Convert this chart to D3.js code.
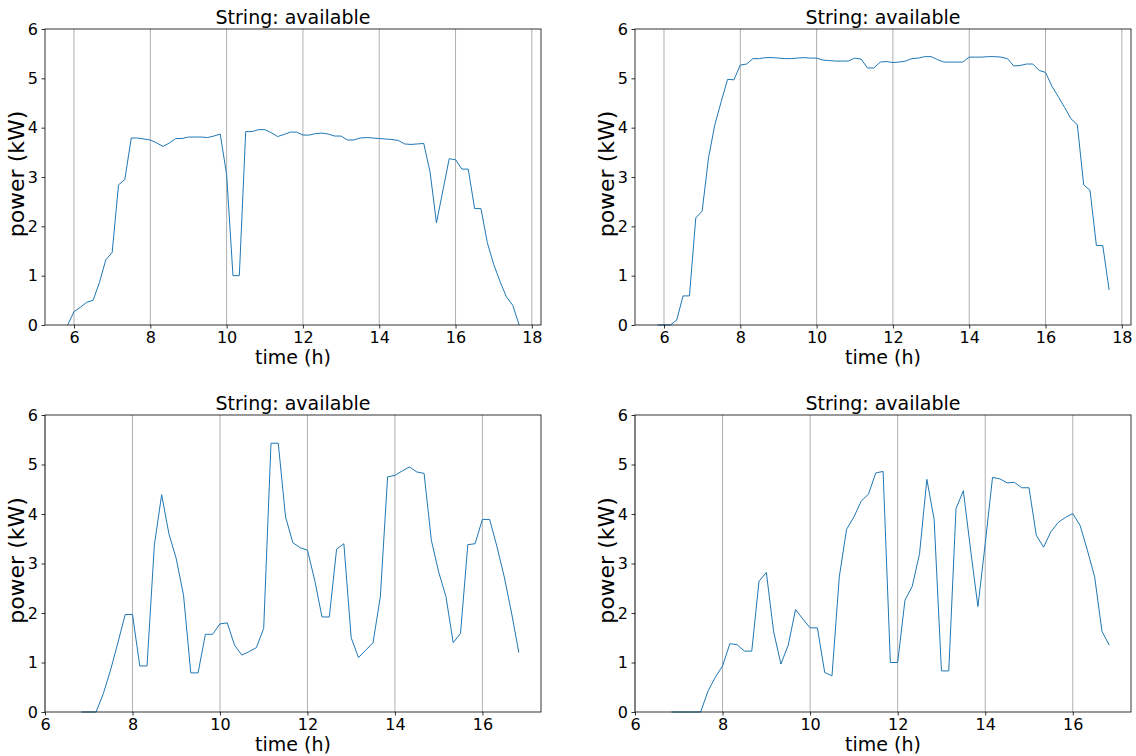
<!DOCTYPE html>
<html>
<head>
<meta charset="utf-8">
<script src="https://cdn.jsdelivr.net/npm/d3@7"></script>
<style>
  body { margin: 0; background: #fff; }
  text { font-family: "DejaVu Sans", sans-serif; fill: #000; }
  .tick text { font-size: 16px; }
</style>
</head>
<body>
<div id="chart"></div>
<script>
// sample times (h), 10 minute steps
const timesA = [5.833, 6.0, 6.167, 6.333, 6.5, 6.667, 6.833, 7.0, 7.167, 7.333, 7.5, 7.667, 7.833,
  8.0, 8.167, 8.333, 8.5, 8.667, 8.833, 9.0, 9.167, 9.333, 9.5, 9.667, 9.833,
  10.0, 10.167, 10.333, 10.5, 10.667, 10.833, 11.0, 11.167, 11.333, 11.5, 11.667, 11.833,
  12.0, 12.167, 12.333, 12.5, 12.667, 12.833, 13.0, 13.167, 13.333, 13.5, 13.667, 13.833,
  14.0, 14.167, 14.333, 14.5, 14.667, 14.833, 15.0, 15.167, 15.333, 15.5, 15.667, 15.833,
  16.0, 16.167, 16.333, 16.5, 16.667, 16.833, 17.0, 17.167, 17.333, 17.5, 17.667];

const timesB = [6.833, 7.0, 7.167, 7.333, 7.5, 7.667, 7.833,
  8.0, 8.167, 8.333, 8.5, 8.667, 8.833, 9.0, 9.167, 9.333, 9.5, 9.667, 9.833,
  10.0, 10.167, 10.333, 10.5, 10.667, 10.833, 11.0, 11.167, 11.333, 11.5, 11.667, 11.833,
  12.0, 12.167, 12.333, 12.5, 12.667, 12.833, 13.0, 13.167, 13.333, 13.5, 13.667, 13.833,
  14.0, 14.167, 14.333, 14.5, 14.667, 14.833, 15.0, 15.167, 15.333, 15.5, 15.667, 15.833,
  16.0, 16.167, 16.333, 16.5, 16.667, 16.833];

// power (kW) per string
const power1 = [0, 0.27, 0.36, 0.46, 0.50, 0.86, 1.32, 1.47, 2.84, 2.95, 3.79, 3.79, 3.77,
  3.75, 3.69, 3.62, 3.69, 3.78, 3.78, 3.81, 3.81, 3.81, 3.80, 3.83, 3.87,
  3.05, 1.0, 1.0, 3.92, 3.92, 3.96, 3.96, 3.90, 3.82, 3.86, 3.91, 3.91,
  3.85, 3.85, 3.88, 3.89, 3.87, 3.83, 3.83, 3.75, 3.75, 3.79, 3.80, 3.79,
  3.78, 3.77, 3.76, 3.74, 3.67, 3.66, 3.67, 3.68, 3.10, 2.07, 2.72, 3.37,
  3.35, 3.16, 3.16, 2.36, 2.36, 1.67, 1.23, 0.88, 0.57, 0.40, 0];

const power2 = [0, 0, 0, 0.10, 0.59, 0.59, 2.17, 2.31, 3.39, 4.06, 4.53, 4.98, 4.97,
  5.27, 5.29, 5.40, 5.40, 5.42, 5.42, 5.41, 5.40, 5.40, 5.41, 5.42, 5.41,
  5.41, 5.37, 5.36, 5.35, 5.35, 5.35, 5.41, 5.39, 5.21, 5.21, 5.33, 5.34,
  5.32, 5.33, 5.35, 5.40, 5.41, 5.44, 5.44, 5.38, 5.33, 5.33, 5.33, 5.33,
  5.43, 5.43, 5.43, 5.44, 5.44, 5.43, 5.40, 5.25, 5.26, 5.29, 5.29, 5.16,
  5.12, 4.84, 4.63, 4.41, 4.18, 4.06, 2.84, 2.73, 1.61, 1.61, 0.71];

const power3 = [0, 0, 0, 0.37, 0.85, 1.40, 1.97,
  1.97, 0.93, 0.93, 3.37, 4.39, 3.60, 3.10, 2.36, 0.79, 0.79, 1.57, 1.57,
  1.78, 1.80, 1.35, 1.15, 1.22, 1.30, 1.69, 5.43, 5.43, 3.94, 3.42, 3.32,
  3.27, 2.66, 1.92, 1.92, 3.29, 3.40, 1.50, 1.10, 1.25, 1.40, 2.33, 4.75,
  4.78, 4.87, 4.95, 4.85, 4.82, 3.47, 2.83, 2.33, 1.40, 1.59, 3.38, 3.40,
  3.89, 3.89, 3.34, 2.73, 2.00, 1.20];

const power4 = [0, 0, 0, 0, 0, 0.42, 0.70,
  0.93, 1.38, 1.36, 1.23, 1.23, 2.64, 2.82, 1.62, 0.97, 1.35, 2.07, 1.88,
  1.70, 1.70, 0.80, 0.73, 2.73, 3.69, 3.94, 4.26, 4.40, 4.83, 4.86, 1.00,
  1.00, 2.26, 2.54, 3.20, 4.70, 3.89, 0.83, 0.83, 4.11, 4.47, 3.27, 2.13,
  3.40, 4.74, 4.71, 4.63, 4.64, 4.53, 4.53, 3.57, 3.33, 3.64, 3.83, 3.93,
  4.01, 3.77, 3.27, 2.73, 1.63, 1.35];

const xTicksA = [6, 8, 10, 12, 14, 16, 18];
const xTicksB = [6, 8, 10, 12, 14, 16];
const yTicks = [0, 1, 2, 3, 4, 5, 6];

const panels = [
  {t: timesA, p: power1, dom: [5.24, 18.24], ticks: xTicksA, box: {x: 45, y: 29, w: 496, h: 296}},
  {t: timesA, p: power2, dom: [5.24, 18.24], ticks: xTicksA, box: {x: 635, y: 29, w: 496, h: 296}},
  {t: timesB, p: power3, dom: [6.0, 17.34], ticks: xTicksB, box: {x: 45, y: 415, w: 496, h: 297}},
  {t: timesB, p: power4, dom: [6.0, 17.33], ticks: xTicksB, box: {x: 635, y: 415, w: 496, h: 297}}
];

const svg = d3.select("#chart").append("svg")
    .attr("width", 1136)
    .attr("height", 756);

panels.forEach(function (pn) {
  const b = pn.box;
  const g = svg.append("g").attr("transform", "translate(" + b.x + "," + b.y + ")");

  const x = d3.scaleLinear().domain(pn.dom).range([0, b.w]);
  const y = d3.scaleLinear().domain([0, 6]).range([b.h, 0]);

  // vertical grid lines only
  g.selectAll(".grid")
    .data(pn.ticks.filter(d => d >= pn.dom[0] && d <= pn.dom[1]))
    .join("line")
    .attr("x1", d => x(d)).attr("x2", d => x(d))
    .attr("y1", 0).attr("y2", b.h)
    .attr("stroke", "#b0b0b0")
    .attr("stroke-width", 1);

  const pts = pn.t.map((t, i) => [t, pn.p[i]]);
  g.append("path")
    .datum(pts)
    .attr("fill", "none")
    .attr("stroke", "#1f77b4")
    .attr("stroke-width", 1)
    .attr("d", d3.line().x(d => x(d[0])).y(d => y(d[1])));

  const xAxis = g.append("g")
    .attr("transform", "translate(0," + b.h + ")")
    .call(d3.axisBottom(x).tickValues(pn.ticks).tickFormat(d3.format("d")).tickSize(3.5).tickPadding(2.5));
  const yAxis = g.append("g")
    .call(d3.axisLeft(y).tickValues(yTicks).tickFormat(d3.format("d")).tickSize(3.5).tickPadding(3.5));
  [xAxis, yAxis].forEach(a => {
    a.select(".domain").remove();
    a.selectAll(".tick line").attr("stroke", "#000").attr("stroke-width", 0.8);
    a.selectAll(".tick text").attr("font-family", null).attr("font-size", null);
  });
  xAxis.selectAll(".tick text").attr("dy", "0.72em");

  // frame
  g.append("rect")
    .attr("width", b.w).attr("height", b.h)
    .attr("fill", "none")
    .attr("stroke", "#000")
    .attr("stroke-width", 0.8);

  g.append("text")
    .attr("x", b.w / 2).attr("y", -5)
    .attr("text-anchor", "middle")
    .style("font-size", "19px")
    .text("String: available");

  g.append("text")
    .attr("x", b.w / 2).attr("y", b.h + 39)
    .attr("text-anchor", "middle")
    .style("font-size", "19px")
    .text("time (h)");

  g.append("text")
    .attr("transform", "translate(-21," + (b.h / 2 - 3) + ") rotate(-90)")
    .attr("text-anchor", "middle")
    .style("font-size", "22px")
    .text("power (kW)");
});
</script>
</body>
</html>
